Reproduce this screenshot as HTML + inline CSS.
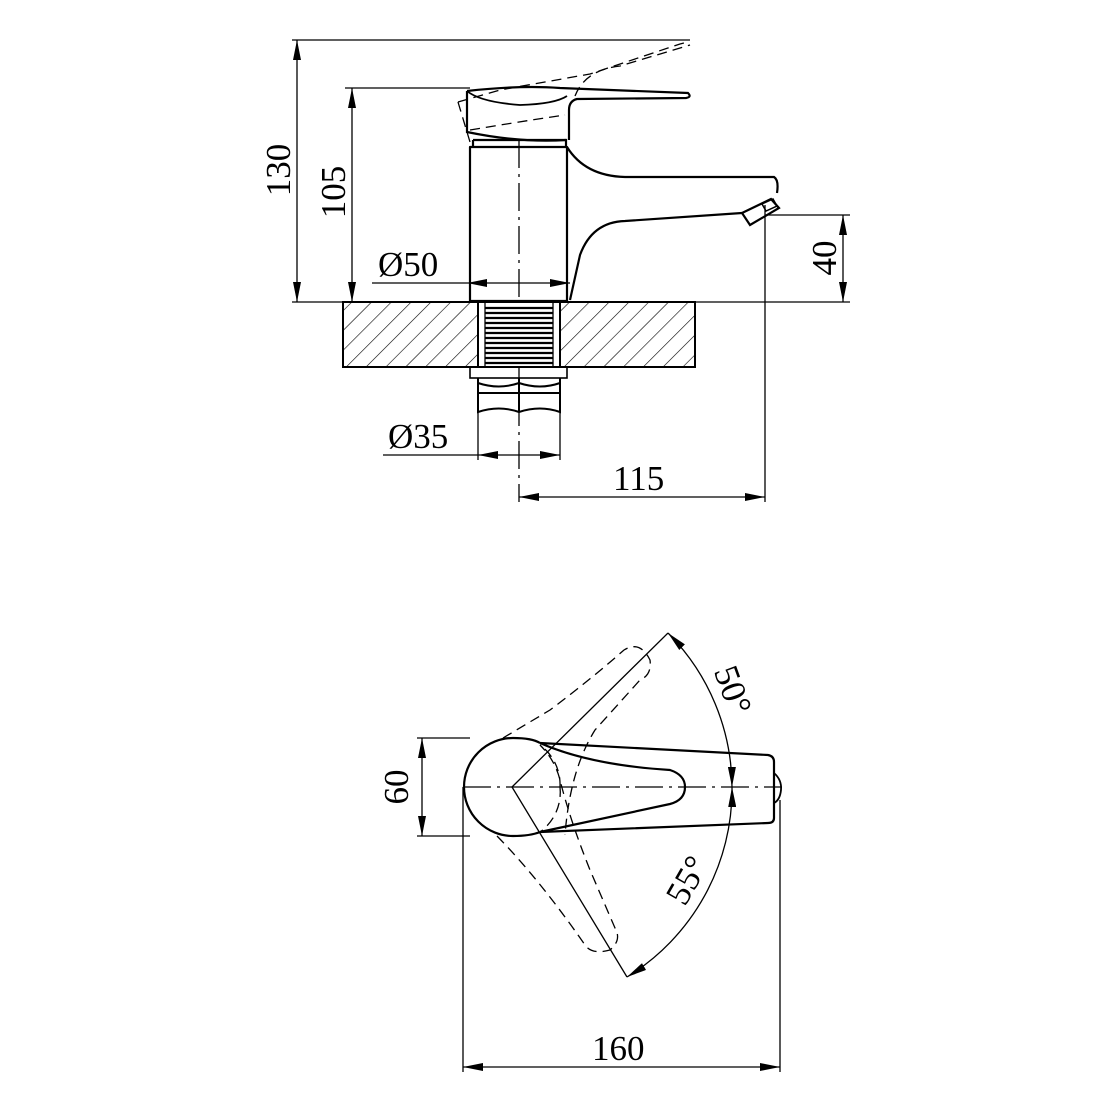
<!DOCTYPE html>
<html><head><meta charset="utf-8"><style>
html,body{margin:0;padding:0;background:#fff}
svg{display:block}
svg text{font-family:"Liberation Serif","DejaVu Serif",serif;font-size:35px;fill:#000;stroke:none}
</style></head><body>
<svg width="1110" height="1110" viewBox="0 0 1110 1110" xmlns="http://www.w3.org/2000/svg">
<defs>
<marker id="a" viewBox="0 0 20 8" refX="20" refY="4" markerWidth="20" markerHeight="8" markerUnits="userSpaceOnUse" orient="auto-start-reverse"><path d="M0,0 L20,4 L0,8 Z" fill="#000" stroke="none"/></marker>
<pattern id="h" width="14" height="14" patternUnits="userSpaceOnUse" patternTransform="rotate(45)"><line x1="0" y1="0" x2="0" y2="14" stroke="#000" stroke-width="1.2"/></pattern>
</defs>
<g fill="none" stroke="#000" stroke-width="1.3">
<line x1="292" y1="40" x2="690" y2="40"/>
<line x1="297" y1="40" x2="297" y2="302" marker-start="url(#a)" marker-end="url(#a)"/>
<line x1="345" y1="88" x2="470" y2="88"/>
<line x1="352" y1="88" x2="352" y2="302" marker-start="url(#a)" marker-end="url(#a)"/>
<line x1="292" y1="302" x2="850" y2="302"/>
<line x1="765" y1="215" x2="850" y2="215"/>
<line x1="843" y1="215" x2="843" y2="302" marker-start="url(#a)" marker-end="url(#a)"/>
<line x1="372" y1="283" x2="467" y2="283"/>
<line x1="467" y1="283" x2="570" y2="283" marker-start="url(#a)" marker-end="url(#a)"/>
<line x1="383" y1="455" x2="478" y2="455"/>
<line x1="478" y1="455" x2="560" y2="455" marker-start="url(#a)" marker-end="url(#a)"/>
<line x1="478" y1="412" x2="478" y2="460"/><line x1="560" y1="412" x2="560" y2="460"/>
<line x1="765" y1="205" x2="765" y2="502"/>
<line x1="519" y1="497" x2="765" y2="497" marker-start="url(#a)" marker-end="url(#a)"/>
<line x1="519" y1="140" x2="519" y2="502" stroke-dasharray="28,6,3,6"/>
<rect x="343" y="302" width="135" height="65" fill="url(#h)" stroke-width="2"/>
<rect x="560" y="302" width="135" height="65" fill="url(#h)" stroke-width="2"/>
<line x1="343" y1="367" x2="695" y2="367" stroke-width="2"/>
<rect x="478" y="302" width="82" height="65" fill="#fff" stroke-width="2"/>
<g stroke-width="2.2">
<line x1="485" y1="308" x2="553" y2="308"/><line x1="485" y1="313" x2="553" y2="313"/><line x1="485" y1="318" x2="553" y2="318"/><line x1="485" y1="323" x2="553" y2="323"/><line x1="485" y1="328" x2="553" y2="328"/><line x1="485" y1="333" x2="553" y2="333"/><line x1="485" y1="338" x2="553" y2="338"/><line x1="485" y1="343" x2="553" y2="343"/><line x1="485" y1="348" x2="553" y2="348"/><line x1="485" y1="353" x2="553" y2="353"/><line x1="485" y1="358" x2="553" y2="358"/><line x1="485" y1="363" x2="553" y2="363"/>
</g>
<line x1="485" y1="302" x2="485" y2="367"/><line x1="553" y1="302" x2="553" y2="367"/>
<rect x="470" y="367" width="97" height="11" stroke-width="1.6"/>
<g stroke-width="2">
<path d="M478,378 V412 Q499,405 519,412 Q540,405 560,412 V378"/>
<line x1="519" y1="378" x2="519" y2="412"/>
<path d="M478,383 Q499,390 519,383 Q540,390 560,383"/>
<line x1="478" y1="393" x2="560" y2="393"/>
</g>
<g stroke-width="2.2">
<path d="M470,147 H567 V301 H470 Z" stroke-linejoin="round"/>
<path d="M473,140 H566 V147"/><line x1="473" y1="140" x2="473" y2="147"/>
<path d="M567,147 Q585,176 625,177 H774 Q779,180 777,193"/>
<path d="M570,300 L580,255 Q592,222 625,221 L742,213"/>
<path d="M742,213 L771,199 L779,208 L750,225 Z"/>
<path d="M762,204 L773,199 L777,206 L766,211 Z" stroke-width="1.5"/>
<path d="M467,91 Q520,85 560,88 L688,93 Q692,97 686,98 L577,99 Q569,101 569,110 V140"/>
<path d="M467,91 V132 Q520,143 566,140"/>
<path d="M467,91 Q480,102 520,105 Q555,104 567,96" stroke-width="1.8"/>
</g>
<g stroke-width="1.3" stroke-dasharray="10,6">
<path d="M458,102 L470,142"/><path d="M458,102 L500,90 L590,74 L680,44 L688,42"/>
<path d="M575,96 Q585,70 620,66 L690,45"/>
<path d="M470,130 Q530,120 565,115"/>
</g>
<line x1="417" y1="738" x2="470" y2="738"/>
<line x1="417" y1="836" x2="470" y2="836"/>
<line x1="422" y1="738" x2="422" y2="836" marker-start="url(#a)" marker-end="url(#a)"/>
<line x1="463" y1="787" x2="463" y2="1072"/>
<line x1="780" y1="800" x2="780" y2="1072"/>
<line x1="463" y1="1067" x2="780" y2="1067" marker-start="url(#a)" marker-end="url(#a)"/>
<line x1="463" y1="787" x2="782" y2="787" stroke-dasharray="28,6,3,6"/>
<g stroke-width="2.2">
<path d="M540,743 L768,755 Q774,756 774,762 V818 Q774,823 768,823 L540,832"/>
<path d="M513,738 Q532,738 540,743 M540,832 Q530,836 513,836 A49,49 0 1 1 513,738"/>
<path d="M540,743 Q590,765 670,770 Q685,775 685,787 Q685,800 670,804 L540,832"/>
<path d="M774,773 Q782,780 781,790 Q780,800 774,803" stroke-width="1.8"/>
</g>
<g stroke-width="1.3">
<line x1="512" y1="787" x2="668" y2="633"/>
<line x1="512" y1="787" x2="627" y2="977"/>
<path d="M668,633 A220,220 0 0 1 732,787" marker-start="url(#a)" marker-end="url(#a)"/>
<path d="M732,787 A220,220 0 0 1 627,977" marker-start="url(#a)" marker-end="url(#a)"/>
</g>
<g stroke-width="1.3" stroke-dasharray="10,6">
<path d="M503,738 L550,710 Q590,680 624,650 Q640,640 650,660 Q652,675 640,680 L595,730 Q570,770 565,835"/>
<path d="M497,836 Q540,880 585,945 Q592,955 610,950 Q622,940 615,928 L590,870 Q570,820 560,780 Q555,760 540,745"/>
<path d="M560,787 A49,49 0 0 0 540,745"/>
<path d="M560,787 A49,49 0 0 1 540,832"/>
</g>
</g>
<g>
<text x="378" y="276">Ø50</text>
<text x="388" y="448">Ø35</text>
<text x="613" y="490">115</text>
<text transform="translate(290,170) rotate(-90)" text-anchor="middle">130</text>
<text transform="translate(345,192) rotate(-90)" text-anchor="middle">105</text>
<text transform="translate(836,258) rotate(-90)" text-anchor="middle">40</text>
<text x="592" y="1060">160</text>
<text transform="translate(408,787) rotate(-90)" text-anchor="middle">60</text>
<text transform="translate(722,694) rotate(70)" text-anchor="middle">50°</text>
<text transform="translate(697,886) rotate(-60)" text-anchor="middle">55°</text>
</g>
</svg>
</body></html>
